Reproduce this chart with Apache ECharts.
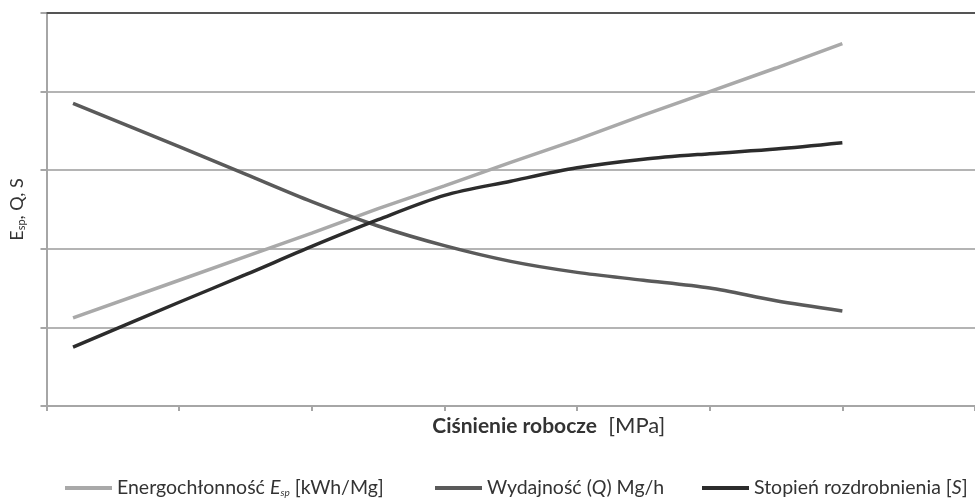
<!DOCTYPE html>
<html>
<head>
<meta charset="utf-8">
<script src="https://cdn.jsdelivr.net/npm/echarts@6/dist/echarts.min.js"></script>
<style>html,body{margin:0;padding:0;background:#fff}#c{width:975px;height:501px}</style>
</head>
<body>
<div id="c"></div>
<script>
// x positions (pressure, arbitrary units, no labels in reference)
const pressure = [0.2, 1.0, 1.5, 2.0, 2.5, 3.0, 3.5, 4.0, 4.5, 5.0, 5.5, 6.0];
// Energochłonność E_sp
const energy   = [1.12, 1.60, 1.90, 2.20, 2.51, 2.80, 3.10, 3.39, 3.70, 4.00, 4.30, 4.61];
// Wydajność Q
const capacity = [3.85, 3.30, 2.95, 2.60, 2.29, 2.04, 1.84, 1.70, 1.60, 1.50, 1.34, 1.21];
// Stopień rozdrobnienia S
const reduction= [0.75, 1.32, 1.67, 2.03, 2.37, 2.68, 2.86, 3.03, 3.14, 3.21, 3.27, 3.35];

const names = ['Energochłonność Esp [kWh/Mg]', 'Wydajność (Q) Mg/h', 'Stopień rozdrobnienia [S]'];
const colors = ['#a9a9a9', '#5a5a5a', '#2c2c2c'];

const pair = (xs, ys) => xs.map((x, i) => [x, ys[i]]);
const FONT = 'Lato, "Open Sans", sans-serif';
const TXT = '#333333';

const richLegend = {
  t: {fontFamily: FONT, fontSize: 19.5, color: TXT},
  i: {fontFamily: FONT, fontSize: 19.5, color: TXT, fontStyle: 'italic'},
  sub: {fontFamily: FONT, fontSize: 10, color: TXT, fontStyle: 'italic', verticalAlign: 'bottom', padding: [10, 0, 0, 0]}
};
function legendFmt(n) {
  if (n === names[0]) return '{t|Energochłonność }{i|E}{sub|sp}{t| [kWh/Mg]}';
  if (n === names[1]) return '{t|Wydajność (}{i|Q}{t|) Mg/h}';
  return '{t|Stopień rozdrobnienia [}{i|S}{t|]}';
}
function mkLegend(idx, left) {
  return {
    data: [names[idx]], left: left, bottom: -2, icon: 'rect',
    itemWidth: 47, itemHeight: 4, itemGap: 0,
    formatter: legendFmt,
    textStyle: {rich: richLegend, fontFamily: FONT, fontSize: 19.5, color: TXT}
  };
}

const chart = echarts.init(document.getElementById('c'), null, {renderer: 'canvas'});
chart.setOption({
  backgroundColor: '#ffffff',
  animation: false,
  grid: {left: 46, right: 0, top: 13, bottom: 95},
  legend: [mkLegend(0, 60), mkLegend(1, 430), mkLegend(2, 697)],
  xAxis: [{
    type: 'value', min: 0, max: 7, interval: 1,
    axisLabel: {show: false},
    axisLine: {show: true, lineStyle: {color: '#a6a6a6', width: 2}},
    axisTick: {show: true, length: 5, lineStyle: {color: '#a6a6a6', width: 2}},
    splitLine: {show: false},
    name: '{b|Ciśnienie robocze}{n|  [MPa]}',
    nameLocation: 'middle', nameGap: 9,
    nameTextStyle: {
      padding: [0, 0, 0, 76],
      rich: {
        b: {fontFamily: FONT, fontSize: 21, fontWeight: 'bold', color: TXT},
        n: {fontFamily: FONT, fontSize: 22, color: TXT}
      }
    }
  }, {
    type: 'value', min: 0, max: 7, position: 'top',
    axisLabel: {show: false}, axisTick: {show: false}, splitLine: {show: false},
    axisLine: {show: true, lineStyle: {color: '#555555', width: 2}}
  }],
  yAxis: {
    type: 'value', min: 0, max: 5, interval: 1,
    axisLabel: {show: false},
    axisLine: {show: true, lineStyle: {color: '#a6a6a6', width: 2}},
    axisTick: {show: true, length: 6, lineStyle: {color: '#a6a6a6', width: 2}},
    splitLine: {show: true, lineStyle: {color: '#b4b4b4', width: 2}},
    name: '{t|E}{s|sp}{t|, Q, S}',
    nameLocation: 'middle', nameGap: 20, nameRotate: 90,
    nameTextStyle: {
      rich: {
        t: {fontFamily: FONT, fontSize: 18, color: TXT},
        s: {fontFamily: FONT, fontSize: 11, color: TXT, verticalAlign: 'bottom', padding: [8, 0, 0, 0]}
      }
    }
  },
  series: [
    {name: names[0], type: 'line', data: pair(pressure, energy), showSymbol: false, symbol: 'none',
     lineStyle: {color: colors[0], width: 3.5}, itemStyle: {color: colors[0]}},
    {name: names[1], type: 'line', data: pair(pressure, capacity), showSymbol: false, symbol: 'none', smooth: 0.3,
     lineStyle: {color: colors[1], width: 3.5}, itemStyle: {color: colors[1]}},
    {name: names[2], type: 'line', data: pair(pressure, reduction), showSymbol: false, symbol: 'none', smooth: 0.3,
     lineStyle: {color: colors[2], width: 3.5}, itemStyle: {color: colors[2]}}
  ]
});
</script>
</body>
</html>
